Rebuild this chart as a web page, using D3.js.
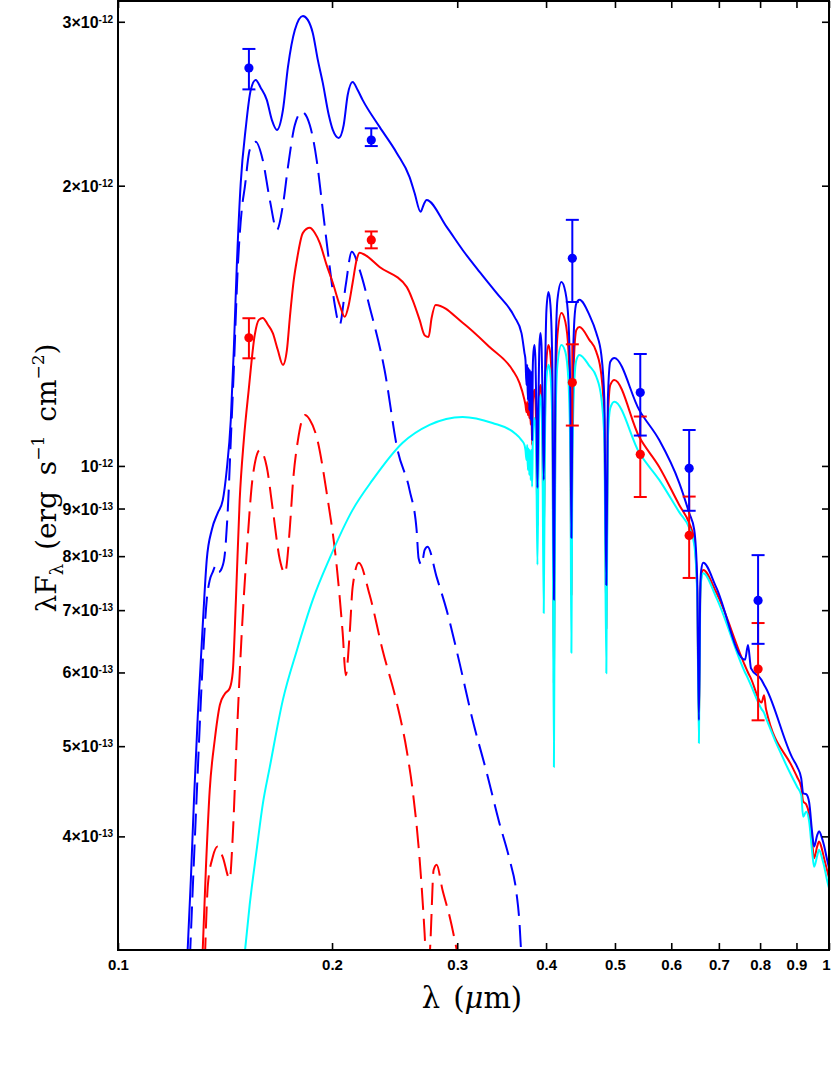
<!DOCTYPE html>
<html><head><meta charset="utf-8">
<script src="https://cdn.jsdelivr.net/npm/d3@7"></script>
<style>body{margin:0;background:#fff}svg{display:block}</style>
</head><body>
<svg id="c" width="831" height="1090"></svg>
<script>
// flux values are in units of 1e-13 erg s^-1 cm^-2, wavelengths in micron
const FLUX_UNIT = 1e-13;
const xTicks = [0.1,0.2,0.3,0.4,0.5,0.6,0.7,0.8,0.9,1];
const xTickLabels = ["0.1","0.2","0.3","0.4","0.5","0.6","0.7","0.8","0.9","1"];
const yTicks = [30,20,10,9,8,7,6,5,4];
const yTickMantissa = ["3\u00d710","2\u00d710","10","9\u00d710","8\u00d710","7\u00d710","6\u00d710","5\u00d710","4\u00d710"];
const yTickExponent = ["-12","-12","-12","-13","-13","-13","-13","-13","-13"];

// total model (blue), UV part
const blueTotalUV = [[0.1250,2.90],[0.1266,3.59],[0.1279,4.38],[0.1295,5.40],[0.1317,6.83],[0.1333,7.93],[0.1355,8.54],[0.1381,8.90],[0.1404,9.19],[0.1422,9.90],[0.1441,11.21],[0.1455,13.32],[0.1469,16.36],[0.1488,20.13],[0.1513,23.13],[0.1537,25.34],[0.1562,25.98],[0.1588,25.47],[0.1619,24.73],[0.1646,23.53],[0.1673,22.96],[0.1706,24.12],[0.1734,26.83],[0.1773,29.40],[0.1820,30.44],[0.1849,30.14],[0.1879,29.18],[0.1910,27.30],[0.1941,25.79],[0.1979,23.82],[0.2005,22.96],[0.2044,22.51],[0.2077,23.24],[0.2104,25.03],[0.2138,25.85],[0.2173,25.34],[0.2208,24.73],[0.2333,23.13],[0.2466,21.69],[0.2571,20.43],[0.2613,19.64],[0.2664,18.75],[0.2690,19.07],[0.2716,19.31],[0.2899,18.06],[0.3053,17.06],[0.3225,16.16],[0.3407,15.34],[0.3611,14.46],[0.3694,13.89]];
// total model (red), UV part
const redTotalUV = [[0.1313,2.90],[0.1329,3.68],[0.1346,4.49],[0.1368,5.08],[0.1391,5.54],[0.1413,5.69],[0.1436,5.77],[0.1450,6.00],[0.1465,7.18],[0.1483,9.19],[0.1503,10.66],[0.1527,12.07],[0.1557,13.82],[0.1578,14.35],[0.1598,14.42],[0.1625,14.18],[0.1651,13.89],[0.1678,13.32],[0.1706,12.84],[0.1728,13.32],[0.1745,14.46],[0.1767,15.84],[0.1785,16.65],[0.1820,17.80],[0.1861,18.02],[0.1891,17.80],[0.1922,17.36],[0.1966,16.42],[0.2005,15.73],[0.2050,14.89],[0.2084,14.46],[0.2111,14.89],[0.2138,15.73],[0.2166,16.65],[0.2187,16.94],[0.2223,16.86],[0.2333,16.36],[0.2547,15.57],[0.2596,15.08],[0.2656,14.35],[0.2699,13.82],[0.2734,13.76],[0.2761,14.42],[0.2797,14.89],[0.3053,14.25],[0.3331,13.42],[0.3588,12.68],[0.3670,12.28]];
// cool star (cyan), UV part
const coolStarUV = [[0.1503,2.93],[0.1532,3.38],[0.1567,3.87],[0.1598,4.33],[0.1635,4.75],[0.1706,5.61],[0.1785,6.34],[0.1879,7.18],[0.1985,7.96],[0.2138,8.97],[0.2281,9.66],[0.2514,10.59],[0.2743,11.07],[0.3053,11.29],[0.3363,11.12],[0.3611,10.85],[0.3694,10.66]];

// optical part on a shared wavelength grid
const opticalLambda = [0.3730,0.3742,0.3754,0.3763,0.3771,0.3780,0.3788,0.3797,0.3806,0.3814,0.3823,0.3831,0.3840,0.3853,0.3865,0.3878,0.3890,0.3903,0.3915,0.3928,0.3941,0.3953,0.3970,0.3986,0.4005,0.4031,0.4057,0.4083,0.4103,0.4123,0.4150,0.4204,0.4258,0.4300,0.4328,0.4342,0.4356,0.4384,0.4413,0.4456,0.4602,0.4707,0.4784,0.4831,0.4862,0.4886,0.4925,0.4989,0.5410,0.5771,0.6157,0.6359,0.6463,0.6526,0.6562,0.6590,0.6611,0.6654,0.6938,0.7619,0.7693,0.7768,0.8038,0.8103,0.8155,0.8877,0.9022,0.9139,0.9197,0.9287,0.9378,0.9469,0.9530,0.9623,0.9683,0.9778,0.9841,0.9936,1.0000];
const blueTotalOpt = [13.22,13.00,12.22,12.84,11.77,12.74,11.48,12.68,11.21,12.62,10.66,12.68,13.26,13.49,13.00,11.34,9.47,11.77,13.49,13.89,13.49,12.07,9.66,12.37,14.71,15.38,14.89,12.68,7.18,12.68,15.08,15.76,15.38,14.35,11.77,8.37,11.77,14.35,14.96,15.08,14.53,13.89,13.16,11.77,7.45,11.77,12.94,13.06,11.48,10.66,9.59,8.90,8.54,7.54,5.33,7.36,7.73,7.87,7.41,6.19,6.42,6.06,5.89,5.82,5.77,4.86,4.75,4.62,4.45,4.44,4.35,4.04,3.90,4.01,4.05,3.98,3.91,3.78,3.70];
const redTotalOpt = [11.77,11.63,11.42,11.72,11.34,11.66,11.26,11.63,11.07,11.63,10.53,11.63,11.92,12.07,11.77,10.40,8.62,10.93,12.01,12.22,12.01,10.93,8.21,11.21,13.00,13.49,13.16,11.48,5.85,11.48,13.82,14.60,14.28,13.32,10.93,7.27,10.93,13.32,14.00,14.10,13.66,13.26,12.53,11.21,6.69,11.21,12.22,12.37,10.74,9.975,9.08,8.68,8.33,7.36,5.19,7.23,7.60,7.73,7.32,6.10,6.00,5.91,5.57,5.67,5.48,4.75,4.63,4.52,4.36,4.33,4.22,3.94,3.79,3.90,3.95,3.87,3.79,3.68,3.61];
const coolStarOpt = [10.53,10.40,10.15,10.53,9.90,10.45,9.78,10.40,9.66,10.40,9.50,10.53,11.07,11.26,11.07,9.66,7.83,10.15,11.63,11.92,11.63,10.40,6.95,10.66,12.43,12.84,12.53,10.93,4.75,10.93,12.84,13.49,13.26,12.37,10.15,6.30,10.15,12.37,13.00,13.16,12.81,12.47,11.83,10.66,5.99,10.66,11.54,11.72,10.33,9.66,8.92,8.58,8.23,7.27,5.04,7.18,7.54,7.67,7.23,6.00,5.91,5.81,5.48,5.43,5.36,4.63,4.52,4.43,4.20,4.25,4.15,3.85,3.71,3.81,3.87,3.79,3.72,3.59,3.52];

// hot components (dashed)
const blueHot = [[0.1262,2.95],[0.1279,3.78],[0.1295,4.72],[0.1308,5.61],[0.1321,6.50],[0.1333,7.18],[0.1346,7.54],[0.1359,7.69],[0.1372,7.81],[0.1386,7.69],[0.1400,7.77],[0.1413,8.03],[0.1427,8.97],[0.1441,10.66],[0.1455,12.68],[0.1474,16.36],[0.1493,18.84],[0.1508,19.94],[0.1532,21.85],[0.1562,22.29],[0.1598,21.31],[0.1635,19.31],[0.1673,17.93],[0.1706,19.07],[0.1734,20.95],[0.1773,23.24],[0.1814,24.00],[0.1861,23.24],[0.1903,21.31],[0.1941,18.84],[0.1985,16.36],[0.2018,14.89],[0.2050,14.18],[0.2091,15.65],[0.2132,16.99],[0.2187,16.24],[0.2259,14.82],[0.2371,12.68],[0.2473,10.40],[0.2571,9.42],[0.2630,8.54],[0.2647,7.96],[0.2673,7.83],[0.2699,8.12],[0.2725,8.19],[0.2806,7.60],[0.2899,7.00],[0.3023,6.14],[0.3154,5.33],[0.3299,4.69],[0.3440,4.13],[0.3553,3.78],[0.3634,3.48],[0.3670,3.23],[0.3694,2.95]];
const redHot = [[0.1325,2.95],[0.1338,3.55],[0.1359,3.80],[0.1381,3.90],[0.1404,3.80],[0.1436,3.60],[0.1450,4.00],[0.1469,5.10],[0.1493,6.62],[0.1518,8.12],[0.1547,9.73],[0.1583,10.40],[0.1619,9.975],[0.1651,8.97],[0.1689,7.93],[0.1717,7.67],[0.1745,8.60],[0.1762,9.59],[0.1791,10.66],[0.1831,11.34],[0.1861,11.21],[0.1903,10.74],[0.1966,9.35],[0.2031,7.79],[0.2070,6.62],[0.2091,5.96],[0.2118,6.62],[0.2138,7.41],[0.2181,7.87],[0.2259,7.27],[0.2356,6.34],[0.2466,5.57],[0.2547,4.95],[0.2596,4.49],[0.2656,3.78],[0.2699,3.15],[0.2725,2.74],[0.2752,3.11],[0.2779,3.68],[0.2806,3.73],[0.2861,3.50],[0.2927,3.28],[0.3014,2.95]];

// photometry
const photLambda = [0.1528,0.2271,0.4355,0.5427,0.6358,0.7948];
const bluePhot   = [26.76,22.39,16.71,11.99,9.94,7.17];
const bluePhotLo = [25.38,22.06,15.00,10.78,8.95,6.44];
const bluePhotHi = [28.05,23.05,18.38,13.19,10.93,8.02];
const redPhot    = [13.73,17.49,12.29,10.29,8.42,6.05];
const redPhotLo  = [13.05,17.13,11.05,9.26,7.58,5.33];
const redPhotHi  = [14.41,17.86,13.51,11.30,9.27,6.78];

const BLUE="#0000ff", RED="#ff0000", CYAN="#00ffff";
const L=118, R=829, T=1, B=950;
const svg = d3.select("#c");
const x = d3.scaleLog().domain([0.1,1]).range([L,R]);
const y = d3.scaleLog().domain([3.02,31.66]).range([B,0]);

svg.append("defs").append("clipPath").attr("id","clip")
  .append("rect").attr("x",L).attr("y",T).attr("width",R-L).attr("height",B-T);

const line = d3.line().x(d=>x(d[0])).y(d=>y(d[1])).curve(d3.curveMonotoneX);
const optical = arr => opticalLambda.map((l,i)=>[l,arr[i]]);
const series = [
  {data: redHot, color: RED, dash: "22,9"},
  {data: blueHot, color: BLUE, dash: "22,9"},
  {data: redTotalUV.concat(optical(redTotalOpt)), color: RED},
  {data: coolStarUV.concat(optical(coolStarOpt)), color: CYAN},
  {data: blueTotalUV.concat(optical(blueTotalOpt)), color: BLUE}
];
const gl = svg.append("g").attr("clip-path","url(#clip)");
series.forEach(s=>{
  gl.append("path").attr("d",line(s.data)).attr("fill","none")
    .attr("stroke",s.color).attr("stroke-width",2).attr("stroke-linejoin","round")
    .attr("stroke-dasharray",s.dash||null);
});

function phot(vals,lo,hi,color){
  const g = svg.append("g");
  photLambda.forEach((l,i)=>{
    const cx=x(l);
    g.append("line").attr("x1",cx).attr("x2",cx).attr("y1",y(lo[i])).attr("y2",y(hi[i])).attr("stroke",color).attr("stroke-width",2);
    [lo[i],hi[i]].forEach(v=>g.append("line").attr("x1",cx-6.5).attr("x2",cx+6.5).attr("y1",y(v)).attr("y2",y(v)).attr("stroke",color).attr("stroke-width",2));
    g.append("circle").attr("cx",cx).attr("cy",y(vals[i])).attr("r",4.6).attr("fill",color);
  });
}
phot(redPhot,redPhotLo,redPhotHi,RED);
phot(bluePhot,bluePhotLo,bluePhotHi,BLUE);

// axes
const tickFont = "'Liberation Sans', Arial, sans-serif";
const axB = svg.append("g").attr("transform",`translate(0,${B})`)
  .call(d3.axisBottom(x).tickValues(xTicks).tickSize(-7).tickPadding(9).tickFormat((d,i)=>xTickLabels[i]));
const axT = svg.append("g").attr("transform",`translate(0,${T})`)
  .call(d3.axisTop(x).tickValues(xTicks).tickSize(-7).tickFormat(""));
const axL = svg.append("g").attr("transform",`translate(${L},0)`)
  .call(d3.axisLeft(y).tickValues(yTicks).tickSize(-7).tickFormat(""));
const axR = svg.append("g").attr("transform",`translate(${R},0)`)
  .call(d3.axisRight(y).tickValues(yTicks).tickSize(-7).tickFormat(""));
[axB,axT,axL,axR].forEach(a=>{
  a.select(".domain").remove();
  a.selectAll(".tick line").attr("stroke","#000").attr("stroke-width",1.6);
});
axB.selectAll(".tick text").attr("font-family",tickFont).attr("font-weight","bold").attr("font-size",15).attr("fill","#000")
  .attr("dx",(d,i)=>i===xTicks.length-1?-3:0);

// y tick labels with superscripts
const yl = svg.append("g").attr("font-family",tickFont).attr("font-weight","bold").attr("fill","#000");
yTicks.forEach((v,i)=>{
  const t = yl.append("text").attr("x",113).attr("y",y(v)+6).attr("text-anchor","end");
  t.append("tspan").attr("font-size",16).text(yTickMantissa[i]);
  t.append("tspan").attr("font-size",10).attr("dy",-5).text(yTickExponent[i]);
});

// frame
svg.append("rect").attr("x",L).attr("y",T).attr("width",R-L).attr("height",B-T)
  .attr("fill","none").attr("stroke","#000").attr("stroke-width",2);

// axis titles
const serif = "'DejaVu Serif', 'Liberation Serif', serif";
const xt = svg.append("text").attr("x",472).attr("y",1008).attr("text-anchor","middle")
  .attr("font-family",serif).attr("font-size",29).attr("fill","#000");
xt.append("tspan").text("\u03bb");
xt.append("tspan").attr("dx",13).text("(");
xt.append("tspan").attr("font-style","italic").text("\u03bc");
xt.append("tspan").text("m)");

const yt = svg.append("text").attr("transform","translate(56,478) rotate(-90)").attr("text-anchor","middle")
  .attr("font-family",serif).attr("font-size",28).attr("fill","#000");
yt.append("tspan").text("\u03bbF");
yt.append("tspan").attr("font-size",18).attr("dy",7).text("\u03bb");
yt.append("tspan").attr("dy",-7).attr("dx",14).text("(erg");
yt.append("tspan").attr("dx",16).text("s");
yt.append("tspan").attr("font-size",17).attr("dy",-12).text("\u22121");
yt.append("tspan").attr("dy",12).attr("dx",14).text("cm");
yt.append("tspan").attr("font-size",17).attr("dy",-12).text("\u22122");
yt.append("tspan").attr("dy",12).text(")");
</script>
</body></html>
